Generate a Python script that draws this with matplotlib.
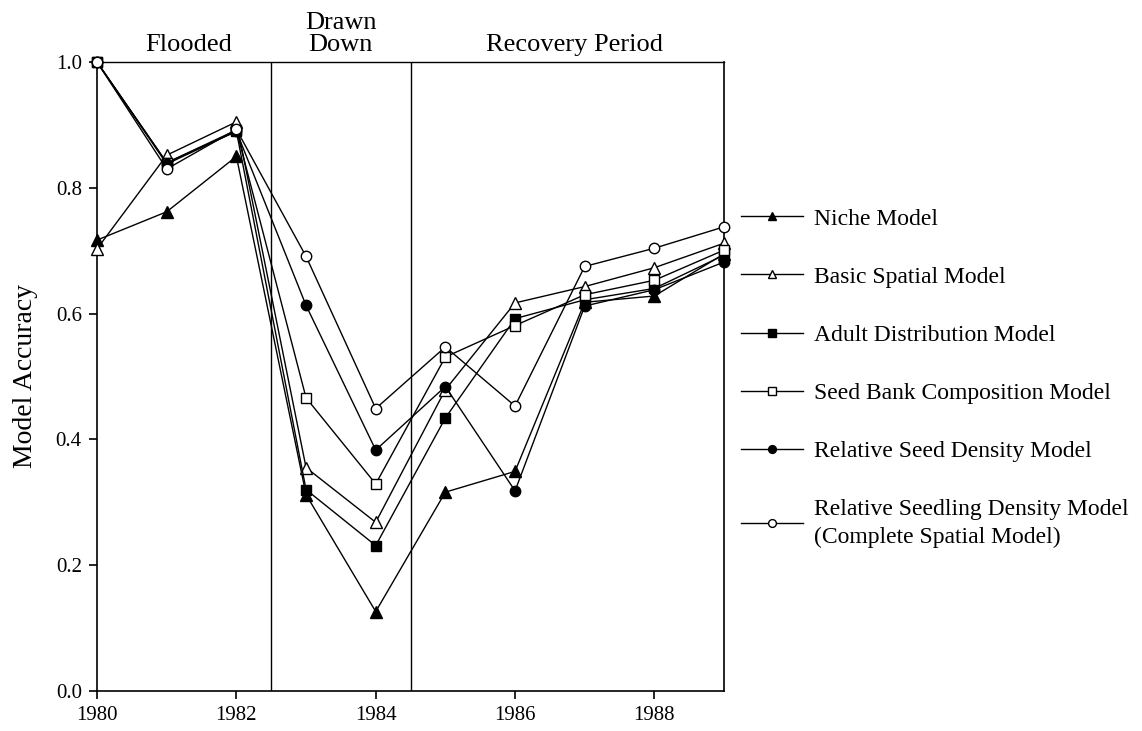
import matplotlib
matplotlib.use('Agg')
import matplotlib.pyplot as plt
import matplotlib.transforms as mtransforms

years = [1980, 1981, 1982, 1983, 1984, 1985, 1986, 1987, 1988, 1989]

niche = [0.717, 0.762, 0.850, 0.312, 0.126, 0.316, 0.349, 0.618, 0.628, 0.695]
basic = [0.703, 0.852, 0.905, 0.355, 0.268, 0.479, 0.617, 0.643, 0.673, 0.712]
adult = [1.0, 0.840, 0.890, 0.320, 0.231, 0.434, 0.592, 0.622, 0.640, 0.693]
seedbank = [1.0, 0.840, 0.892, 0.466, 0.329, 0.531, 0.581, 0.630, 0.653, 0.701]
relseed = [1.0, 0.838, 0.890, 0.613, 0.383, 0.484, 0.318, 0.612, 0.638, 0.682]
seedling = [1.0, 0.830, 0.893, 0.691, 0.449, 0.547, 0.453, 0.675, 0.704, 0.738]

labels = ['Niche Model', 'Basic Spatial Model', 'Adult Distribution Model',
          'Seed Bank Composition Model', 'Relative Seed Density Model',
          'Relative Seedling Density Model\n(Complete Spatial Model)']

periods = ['Flooded', 'Drawn\nDown', 'Recovery Period']
period_x = [1981.32, 1983.5, 1986.85]
boundaries = [1982.5, 1984.5]


def main():
    plt.rcParams['font.family'] = ['Liberation Serif', 'DejaVu Serif']

    fig = plt.figure(figsize=(11.42, 7.31), dpi=100)
    ax = fig.add_axes([0.085, 0.055, 0.549, 0.86])

    series = [niche, basic, adult, seedbank, relseed, seedling]
    styles = [('^', 'black'), ('^', 'white'), ('s', 'black'),
              ('s', 'white'), ('o', 'black'), ('o', 'white')]
    handles = []
    for vals, (mk, fc), lab in zip(series, styles, labels):
        sz = 8 if mk == '^' else 7.5
        h, = ax.plot(years, vals, color='black', lw=1.0, marker=mk,
                     markersize=sz, markerfacecolor=fc,
                     markeredgecolor='black', markeredgewidth=1.0,
                     clip_on=False, zorder=3, label=lab)
        handles.append(h)

    for b in boundaries:
        ax.axvline(b, color='black', lw=1.0, zorder=1)

    trans = mtransforms.blended_transform_factory(ax.transData, ax.transAxes)
    for name, xp in zip(periods, period_x):
        ax.text(xp, 1.01, name, transform=trans, ha='center', va='bottom',
                fontsize=19, linespacing=1.0)

    ax.set_xlim(1980, 1989)
    ax.set_ylim(0, 1.0)
    ax.set_xticks([1980, 1982, 1984, 1986, 1988])
    ax.set_yticks([0.0, 0.2, 0.4, 0.6, 0.8, 1.0])
    ax.set_yticklabels(['0.0', '0.2', '0.4', '0.6', '0.8', '1.0'])
    ax.tick_params(direction='out', length=6, width=1.2, labelsize=15, pad=5)
    ax.set_ylabel('Model Accuracy', fontsize=20)
    ax.yaxis.set_label_coords(-0.094, 0.5)
    for sp in ax.spines.values():
        sp.set_linewidth(1.2)
    ax.spines['top'].set_linewidth(1.0)

    leg = fig.legend(handles=handles, labels=labels, loc='upper left',
                     bbox_to_anchor=(0.649, 0.7154),
                     bbox_transform=fig.transFigure,
                     frameon=False, fontsize=17, handlelength=2.6,
                     handletextpad=0.5, labelspacing=1.55, markerscale=0.75,
                     borderpad=0, borderaxespad=0)
    for t in leg.get_texts():
        t.set_linespacing(1.45)

    fig.savefig('out.png', dpi=100)


if __name__ == '__main__':
    main()
